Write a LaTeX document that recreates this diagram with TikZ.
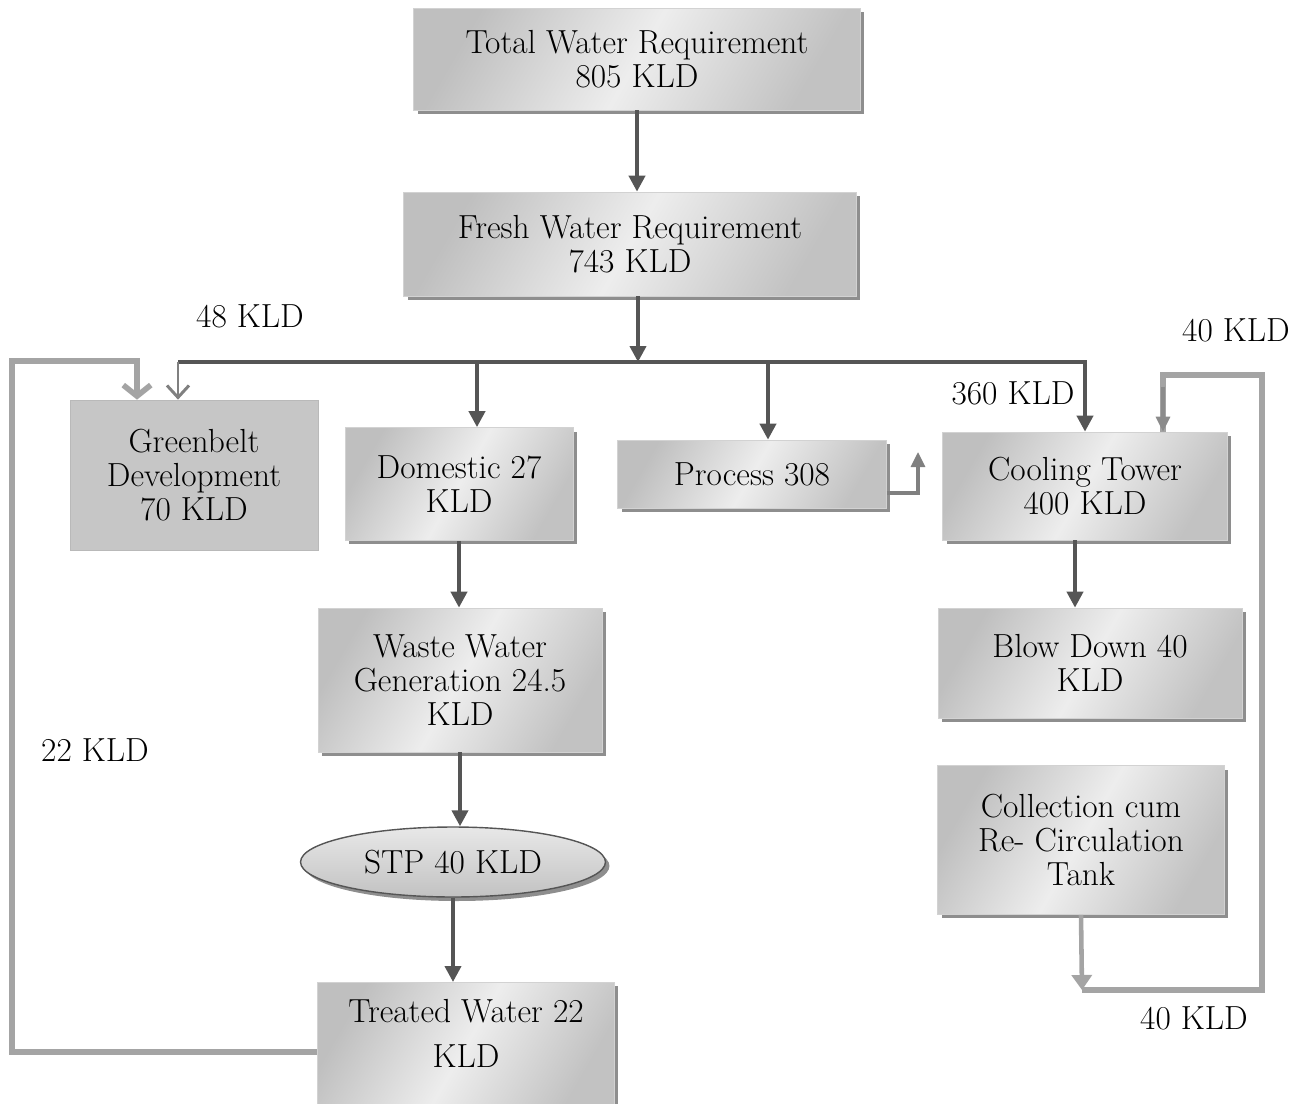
\documentclass[tikz,border=0pt]{standalone}
\usetikzlibrary{arrows.meta,positioning,calc,shapes.geometric,shadows}
\definecolor{ArrowDark}{HTML}{555555}
\definecolor{ArrowMid}{HTML}{808080}
\definecolor{LoopGray}{HTML}{A4A4A4}
\definecolor{ShadowGray}{HTML}{8E8E8E}

\begin{document}
\begin{tikzpicture}[
		x=0.02cm, y=-0.02cm,
		txt/.style={font=\fontsize{19}{19.5}\selectfont, align=center},
		box/.style={txt, draw=gray!35, inner sep=2pt,
			left color=gray!50, right color=gray!48, middle color=gray!14, shading angle=60,
			drop shadow={shadow xshift=0.8mm, shadow yshift=-0.8mm, fill=ShadowGray, opacity=1}},
		flatbox/.style={txt, draw=gray!55, fill=gray!45},
		stpbox/.style={txt, ellipse, draw=ArrowDark, line width=0.8pt,
			top color=gray!18, bottom color=gray!48,
			drop shadow={shadow xshift=0.8mm, shadow yshift=-0.8mm, fill=ShadowGray, opacity=1}},
		flow/.style={draw=ArrowDark, line width=2.2pt, -{Triangle[length=3.2mm,width=3.2mm]}},
		midflow/.style={draw=ArrowMid, line width=1.8pt, -{Triangle[length=3mm,width=2.8mm]}},
		barb/.style={draw=ArrowMid, line width=1.7pt, -{Straight Barb[length=2.4mm,width=4.4mm]}},
		loop/.style={draw=LoopGray, line width=3.2pt},
		lbl/.style={txt}
	]
	\useasboundingbox (0,0) rectangle (1299,1103);

	% main column
	\node[box, minimum width=8.94cm, minimum height=2.04cm] (total) at (637,59) {Total Water Requirement\\805 KLD};
	\node[box, minimum width=9.06cm, minimum height=2.08cm] (fresh) at (630,244) {Fresh Water Requirement\\743 KLD};

	% users
	\node[flatbox, minimum width=4.96cm, minimum height=3cm] (green) at (194,475) {Greenbelt\\Development\\70 KLD};
	\node[box, minimum width=4.56cm, minimum height=2.26cm] (dom) at (459,484) {Domestic 27\\KLD};
	\node[box, minimum width=5.38cm, minimum height=1.36cm] (proc) at (752,474) {Process 308};
	\node[box, minimum width=5.7cm, minimum height=2.16cm] (cool) at (1085,486) {Cooling Tower\\400 KLD};
	\node[box, minimum width=6.08cm, minimum height=2.2cm] (blow) at (1090,663) {Blow Down 40\\KLD};
	\node[box, minimum width=5.74cm, minimum height=2.98cm] (tank) at (1081,840) {Collection cum\\Re- Circulation\\Tank};

	% sewage line
	\node[box, minimum width=5.68cm, minimum height=2.88cm] (waste) at (460,680) {Waste Water\\Generation 24.5\\KLD};
	\node[stpbox, minimum width=6.1cm, minimum height=1.4cm] (stp) at (453,862) {STP 40 KLD};
	\node[box, anchor=north, minimum width=5.94cm, minimum height=2.5cm, text depth=0.45cm] (treat) at (466,982) {Treated Water 22\\[6pt]KLD};

	\coordinate (busL) at (178,362);
	\coordinate (procup) at (918,452);
	\coordinate (lloopB) at (318,1052);
	\coordinate (lloopT) at (12,361);
	\coordinate (tankc) at (1082,990);
	\coordinate (rloopB) at (1262,990);
	\coordinate (rloopT) at (1262,375);

	\draw[flow] (total.south) -- (total.south |- fresh.north);
	\draw[flow] ([xshift=0.16cm]fresh.south) -- ([xshift=0.16cm]fresh.south |- busL);
	\draw[flow] (busL) -| (cool.north);
	\draw[barb] (busL) -- (busL |- green.north);
	\draw[flow] ([xshift=0.36cm]dom.north |- busL) -- ([xshift=0.36cm]dom.north);
	\draw[flow] ([xshift=0.32cm]proc.north |- busL) -- ([xshift=0.32cm]proc.north);
	\draw[midflow] ([yshift=-0.38cm]proc.east) -| (procup);

	\draw[flow] (dom.south) -- (dom.south |- waste.north);
	\draw[flow] (waste.south) -- (waste.south |- stp.north);
	\draw[flow] (stp.south) -- (stp.south |- treat.north);
	\draw[flow] ([xshift=-0.2cm]cool.south) -- ([xshift=-0.2cm]cool.south |- blow.north);

	% recycle loops
	\draw[loop, -{Straight Barb[length=2.2mm,width=5.5mm]}] (treat.west |- lloopB) -| (lloopT) -| ([xshift=-1.14cm]green.north);
	\draw[loop, line width=2.6pt, -{Triangle[length=3mm,width=4mm]}] (tank.south) -- (tankc);
	\draw[loop] (tankc) -- (rloopB) -- (rloopT) -| ([xshift=1.56cm]cool.north);
	\draw[midflow, draw=LoopGray!85!black] ([xshift=1.56cm,yshift=0.9cm]cool.north) -- ([xshift=1.56cm]cool.north);

	% flow labels
	\node[lbl] (l48) at (250,316) {48 KLD};
	\node[lbl] (l22) at (95,750) {22 KLD};
	\node[lbl] (l360) at (1013,393) {360 KLD};
	\node[lbl] (l40a) at (1236,330) {40 KLD};
	\node[lbl] (l40b) at (1194,1018) {40 KLD};
\end{tikzpicture}
\end{document}
